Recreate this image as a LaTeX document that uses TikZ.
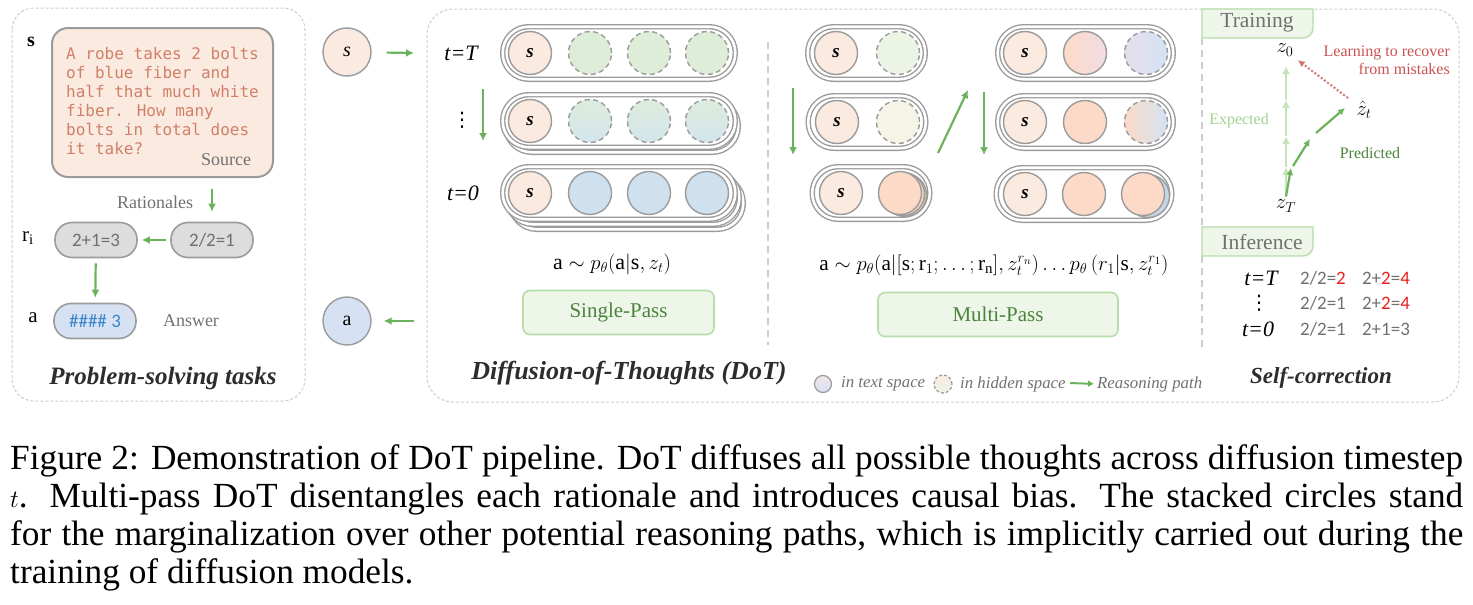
\documentclass[tikz,border=0pt]{standalone}
\usepackage{fontspec}
\setmainfont{Liberation Serif}
\newfontfamily\monofont{DejaVu Sans Mono}
\newfontfamily\calfont{Carlito}
\newfontfamily\symfont{DejaVu Sans}
\usetikzlibrary{arrows.meta}

\definecolor{cgray}{RGB}{155,155,155}
\definecolor{cpanel}{RGB}{205,205,205}
\definecolor{cpeach}{RGB}{251,234,224}
\definecolor{csrc}{RGB}{208,128,104}
\definecolor{cgreen}{RGB}{108,178,92}
\definecolor{clgreen}{RGB}{196,227,186}
\definecolor{cexp}{RGB}{160,210,145}
\definecolor{ctxtgreen}{RGB}{74,132,58}
\definecolor{cboxfill}{RGB}{238,246,234}
\definecolor{cboxdraw}{RGB}{182,221,170}
\definecolor{cred}{RGB}{238,28,28}
\definecolor{cred2}{RGB}{200,82,80}
\definecolor{cblue}{RGB}{207,224,239}
\definecolor{cblue2}{RGB}{196,214,232}
\definecolor{cansfill}{RGB}{214,226,243}
\definecolor{cans}{RGB}{58,134,200}
\definecolor{corange}{RGB}{252,218,199}
\definecolor{cpink}{RGB}{242,221,227}
\definecolor{clav}{RGB}{229,222,236}
\definecolor{clblue}{RGB}{212,227,244}
\definecolor{chidT}{RGB}{222,237,215}
\definecolor{chidMa}{RGB}{220,236,220}
\definecolor{chidMb}{RGB}{212,229,236}
\definecolor{cmlT}{RGB}{236,244,230}
\definecolor{cmlM}{RGB}{246,243,231}
\definecolor{ctan}{RGB}{236,214,178}
\definecolor{cpill}{RGB}{221,221,221}
\definecolor{ctext}{RGB}{112,112,112}
\definecolor{ctitle}{RGB}{45,45,45}

\begin{document}
\begin{tikzpicture}[x=1pt, y=-1pt, >={Latex[length=8pt,width=8pt]},
    panel/.style={draw=cpanel, line width=1pt, dash pattern=on 3pt off 2pt, rounded corners=22pt},
    sepline/.style={draw=cpanel, line width=1.4pt, dash pattern=on 7pt off 5pt},
    capsule/.style={draw=cgray, double=white, double distance=2.6pt, line width=1.4pt, fill=white,
        rounded corners=26pt, minimum height=52.6pt, inner sep=0pt},
    ball/.style={circle, draw=cgray, line width=1.4pt, minimum size=43pt, inner sep=0pt,
        font=\fontsize{19}{19}\selectfont\bfseries\itshape},
    hid/.style={ball, dash pattern=on 5pt off 3.5pt},
    pill/.style={draw=cgray, line width=1.6pt, fill=cpill, rounded corners=17pt, minimum width=82pt,
        minimum height=35pt, inner sep=0pt, font=\calfont\fontsize{19}{19}\selectfont, text=ctext},
    garrow/.style={->, draw=cgreen, line width=2.2pt},
    lgarrow/.style={->, draw=clgreen, line width=2.2pt},
    passbox/.style={draw=cboxdraw, line width=1.6pt, fill=cboxfill, rounded corners=7pt,
        minimum height=44pt, text=ctxtgreen, font=\fontsize{21}{21}\selectfont},
    tabbox/.style={draw=cboxdraw, line width=1.4pt, fill=cboxfill},
    ttl/.style={font=\fontsize{25}{25}\selectfont\bfseries\itshape, text=ctitle},
    lbl/.style={font=\fontsize{18}{18}\selectfont, text=ctext},
    tlbl/.style={font=\fontsize{22}{22}\selectfont\itshape},
    dots/.style={font=\symfont\fontsize{20}{20}\selectfont, inner sep=0pt},
    calcs/.style={font=\calfont\fontsize{19}{19}\selectfont, text=ctext},
    lgnd/.style={font=\fontsize{16.8}{16.8}\selectfont\itshape, text=ctext, anchor=west, inner sep=0pt}
]
    \useasboundingbox (0,0) rectangle (1473,605);

    % problem-solving tasks
    \draw[panel] (12,8) rectangle (305,401);
    \node[draw=cgray, line width=2pt, fill=cpeach, rounded corners=16pt,
        minimum width=221pt, minimum height=149pt] (src) at (162.5,102.5) {};
    \node[anchor=north west, inner sep=0pt, align=left, text=csrc,
        font=\monofont\fontsize{16}{19}\selectfont] (question) at (66,47)
        {A robe takes 2 bolts\\of blue fiber and\\half that much white\\fiber. How many\\bolts in total does\\it take?};
    \node[lbl] (srcLbl) at (226,160) {Source};
    \node[font=\fontsize{20}{20}\selectfont\bfseries] (sLbl) at (31,42) {s};
    \node[lbl] (ratLbl) at (155,202) {Rationales};
    \coordinate (ratTop) at (212,189);
    \node[pill] (rat1) at (96,240) {2+1=3};
    \node[pill] (rat2) at (212,240) {2/2=1};
    \node[font=\fontsize{21}{21}\selectfont] (rLbl) at (28,238) {r\textsubscript{i}};
    \node[pill, fill=cansfill, text=cans] (ans) at (95,321) {\#\#\#\# 3};
    \node[font=\fontsize{21}{21}\selectfont] (aLbl) at (33,318) {a};
    \node[lbl] (ansLbl) at (191,321) {Answer};
    \node[ttl] (psTitle) at (163,378) {Problem-solving tasks};

    \draw[garrow, shorten >=10pt] (ratTop) -- (rat2);
    \draw[garrow, shorten <=4pt, shorten >=4pt] (rat2) -- (rat1);
    \draw[garrow, shorten <=5pt, shorten >=5pt] (rat1) -- (ans);

    % input and output
    \node[ball, fill=cpeach, minimum size=48pt, font=\fontsize{20}{20}\selectfont\itshape] (sIn) at (347,52) {s};
    \node[ball, fill=cansfill, minimum size=48pt, font=\fontsize{20}{20}\selectfont] (aOut) at (347,321) {a};
    \coordinate (dotIn) at (414,53);
    \coordinate (dotOut) at (414,321);
    \draw[garrow, shorten <=15pt] (sIn) -- (dotIn);
    \draw[garrow, shorten >=12pt] (dotOut) -- (aOut);

    % diffusion-of-thoughts
    \draw[panel, rounded corners=26pt] (427,9) rectangle (1459,402);
    \draw[sepline] (768,42) -- (768,345);

    % single-pass
    \node[tlbl] (tT) at (461,53) {t=T};
    \node[dots] (tDots) at (462,120) {⋮};
    \node[tlbl] (t0) at (463,193) {t=0};
    \coordinate (spA) at (483,89);
    \coordinate (spB) at (483,141);
    \draw[garrow] (spA) -- (spB);

    \node[capsule, minimum width=232.6pt] (spT) at (619,53) {};
    \node[ball, fill=cpeach] (spTs) at (530,53) {s};
    \node[hid, fill=chidT] (spT1) at (590,53) {};
    \node[hid, fill=chidT] (spT2) at (649,53) {};
    \node[hid, fill=chidT] (spT3) at (707,53) {};

    \node[capsule, minimum width=232.6pt] (spMb) at (622,126) {};
    \node[capsule, minimum width=232.6pt] (spM) at (619,121) {};
    \node[ball, fill=cpeach] (spMs) at (530,121) {s};
    \node[hid, top color=chidMa, bottom color=chidMb] (spM1) at (590,121) {};
    \node[hid, top color=chidMa, bottom color=chidMb] (spM2) at (649,121) {};
    \node[hid, top color=chidMa, bottom color=chidMb] (spM3) at (707,121) {};

    \node[capsule, minimum width=232.6pt] (sp0c) at (627,203) {};
    \node[capsule, minimum width=232.6pt] (sp0b) at (623,198) {};
    \node[capsule, minimum width=232.6pt] (sp0) at (619,193) {};
    \node[ball, fill=cpeach] (sp0s) at (530,193) {s};
    \node[ball, fill=cblue] (sp01) at (590,193) {};
    \node[ball, fill=cblue] (sp02) at (649,193) {};
    \node[ball, fill=cblue] (sp03) at (707,193) {};

    \node[font=\fontsize{22}{22}\selectfont] (spForm) at (612,264)
        {$\mathrm{a}\sim p_\theta(\mathrm{a}|\mathrm{s},z_t)$};
    \node[passbox, minimum width=191pt] (spBox) at (618.5,312.5) {Single-Pass};

    % multi-pass
    \coordinate (mpA) at (793,88);
    \coordinate (mpB) at (793,155);
    \coordinate (mpC) at (938,153);
    \coordinate (mpD) at (968,90);
    \coordinate (mpE) at (984,92);
    \coordinate (mpF) at (984,155);
    \draw[garrow] (mpA) -- (mpB);
    \draw[garrow] (mpC) -- (mpD);
    \draw[garrow] (mpE) -- (mpF);

    \node[capsule, minimum width=117.6pt] (mlT) at (866.5,53) {};
    \node[ball, fill=cpeach] (mlTs) at (836,53) {s};
    \node[hid, fill=cmlT] (mlTh) at (898,53) {};
    \node[capsule, minimum width=117.6pt] (mlM) at (867,122) {};
    \node[ball, fill=cpeach] (mlMs) at (837,122) {s};
    \node[hid, fill=cmlM] (mlMh) at (898,122) {};
    \node[capsule, minimum width=117.6pt] (ml0) at (871,193) {};
    \node[ball, fill=cpeach] (ml0s) at (841,193) {s};
    \node[ball, fill=ctan] (ml0c) at (905,195) {};
    \node[ball, fill=corange!70!ctan] (ml0b) at (903,194) {};
    \node[ball, fill=corange] (ml0h) at (900,193) {};

    \node[capsule, minimum width=175.6pt] (mrT) at (1085.5,53) {};
    \node[ball, fill=cpeach] (mrTs) at (1025,53) {s};
    \node[ball, left color=corange, right color=cpink] (mrT1) at (1085,53) {};
    \node[hid, left color=clav, right color=clblue] (mrT2) at (1146,53) {};
    \node[capsule, minimum width=175.6pt] (mrM) at (1085.5,122) {};
    \node[ball, fill=cpeach] (mrMs) at (1025,122) {s};
    \node[ball, fill=corange] (mrM1) at (1085,122) {};
    \node[hid, left color=corange, right color=clblue] (mrM2) at (1146,122) {};
    \node[capsule, minimum width=175.6pt] (mr0) at (1084,194) {};
    \node[ball, fill=cpeach] (mr0s) at (1025,194) {s};
    \node[ball, fill=corange] (mr01) at (1084,194) {};
    \node[ball, fill=cblue2] (mr02b) at (1148,196) {};
    \node[ball, fill=corange] (mr02) at (1143,194) {};

    \node[font=\fontsize{21.3}{21.3}\selectfont] (mpForm) at (994,265)
        {$\mathrm{a}\sim p_\theta\bigl(\mathrm{a}\big|[\mathrm{s};\mathrm{r}_1;\ldots;\mathrm{r_n}],z_t^{r_n}\bigr)\ldots p_\theta\,(r_1|\mathrm{s},z_t^{r_1})$};
    \node[passbox, minimum width=240pt] (mpBox) at (998,314.5) {Multi-Pass};

    \node[ttl, font=\fontsize{26}{26}\selectfont\bfseries\itshape] (dotTitle) at (629,373) {Diffusion-of-Thoughts (DoT)};

    % legend
    \node[circle, draw=cgray, line width=1.2pt, minimum size=17pt, inner sep=0pt,
        top color=cpink!80!white, bottom color=clblue] (lgText) at (823,384) {};
    \node[lgnd] (lgTextLbl) at (841,384) {in text space};
    \node[circle, draw=cgray, line width=1.2pt, dash pattern=on 3pt off 2pt, minimum size=18pt,
        inner sep=0pt, top color=cpeach, bottom color=cmlT] (lgHid) at (943,384) {};
    \node[lgnd] (lgHidLbl) at (960,384) {in hidden space};
    \coordinate (lgA) at (1070,383);
    \node[lgnd] (lgArrLbl) at (1097,384) {Reasoning path};
    \draw[garrow, line width=2pt, >={Latex[length=6pt,width=7pt]}, shorten >=3pt] (lgA) -- (lgArrLbl.west);

    % self-correction
    \draw[sepline] (1202,38) -- (1202,227);
    \draw[sepline] (1202,256) -- (1202,350);
    \filldraw[tabbox] (1202,9) -- (1313,9) -- (1313,28) arc[start angle=0, end angle=90, radius=10]
        -- (1202,38) -- cycle;
    \node[font=\fontsize{21.5}{21.5}\selectfont, text=ctext] (trainLbl) at (1257,23) {Training};
    \filldraw[tabbox] (1202,227) -- (1313,227) -- (1313,246) arc[start angle=0, end angle=90, radius=10]
        -- (1202,256) -- cycle;
    \node[font=\fontsize{21.5}{21.5}\selectfont, text=ctext] (infLbl) at (1262,242) {Inference};

    \node[font=\fontsize{20}{20}\selectfont] (z0) at (1285,50) {$z_0$};
    \node[font=\fontsize{20}{20}\selectfont] (zT) at (1286,206) {$z_T$};
    \node[font=\fontsize{20}{20}\selectfont] (zhat) at (1364,110) {$\hat{z}_t$};
    \coordinate (e0) at (1286,197);
    \coordinate (e1) at (1286,167);
    \coordinate (e2) at (1286,136);
    \coordinate (e3) at (1286,100);
    \coordinate (e4) at (1286,66);
    \draw[lgarrow] (e0) -- (e1);
    \draw[lgarrow] (e1) -- (e2);
    \draw[lgarrow] (e2) -- (e3);
    \draw[lgarrow] (e3) -- (e4);
    \node[font=\fontsize{16}{16}\selectfont, text=cexp] (expLbl) at (1239,121) {Expected};

    \coordinate (p1) at (1291,168);
    \coordinate (p2) at (1293,166);
    \coordinate (p3) at (1310,139);
    \coordinate (p4) at (1316,133);
    \coordinate (p5) at (1345,108);
    \draw[garrow, >={Latex[length=7pt,width=7pt]}] (zT.north) -- (p1);
    \draw[garrow, >={Latex[length=7pt,width=7pt]}] (p2) -- (p3);
    \draw[garrow, >={Latex[length=7pt,width=7pt]}] (p4) -- (p5);
    \node[font=\fontsize{16}{16}\selectfont, text=ctxtgreen] (predLbl) at (1370,153) {Predicted};

    \coordinate (rd) at (1348,98);
    \draw[->, draw=cred2!80!white, line width=2pt, dotted, >={Latex[length=7pt,width=7pt]},
        shorten >=1pt] (rd) -- (z0.south east);
    \node[font=\fontsize{16}{18}\selectfont, text=cred2, align=right, anchor=north east,
        inner sep=0pt] (learnLbl) at (1450,46) {Learning to recover\\from mistakes};

    \node[tlbl] (iT) at (1261,278) {t=T};
    \node[dots] (iDots) at (1259,303) {⋮};
    \node[tlbl] (i0) at (1258,329) {t=0};
    \node[calcs] (iT1) at (1323,278) {2/2=\textcolor{cred}{2}};
    \node[calcs] (iT2) at (1386,278) {2+\textcolor{cred}{2}=\textcolor{cred}{4}};
    \node[calcs] (iM1) at (1323,303) {2/2=1};
    \node[calcs] (iM2) at (1386,303) {2+\textcolor{cred}{2}=\textcolor{cred}{4}};
    \node[calcs] (i01) at (1323,329) {2/2=1};
    \node[calcs] (i02) at (1386,329) {2+1=3};
    \node[ttl, font=\fontsize{23}{23}\selectfont\bfseries\itshape] (scTitle) at (1321,378) {Self-correction};

    % caption
    \node[anchor=north west, inner sep=0pt, text width=1453pt, align=justify,
        font=\fontsize{35.3}{38}\selectfont] (caption) at (10,444)
        {Figure 2: Demonstration of DoT pipeline. DoT diffuses all possible thoughts across diffusion timestep\linebreak
        $t$. Multi-pass DoT disentangles each rationale and introduces causal bias. The stacked circles stand\linebreak
        for the marginalization over other potential reasoning paths, which is implicitly carried out during the\linebreak
        training of diffusion models.};
\end{tikzpicture}
\end{document}
